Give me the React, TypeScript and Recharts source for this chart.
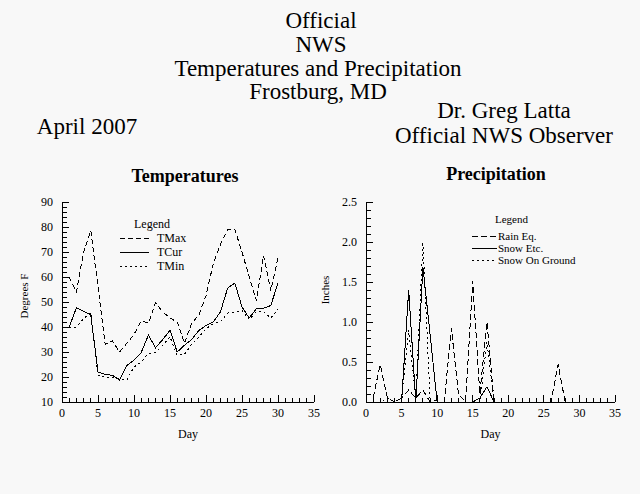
import { LineChart, Line, XAxis, YAxis, Legend } from "recharts";

const days = [1, 2, 3, 4, 5, 6, 7, 8, 9, 10, 11, 12, 13, 14, 15, 16, 17, 18, 19, 20, 21, 22, 23, 24, 25, 26, 27, 28, 29, 30];

const tMax = [60, 54, 70, 78.5, 56, 33, 34.5, 30, 33.5, 37, 42.5, 41.5, 49.7, 46, 43.6, 42, 33.5, 41.4, 44.8, 52.5, 65.3, 73, 79, 79, 70, 60, 50.6, 68.5, 54.6, 67.8];
const tCur = [40, 47.7, 46.3, 44.8, 22, 21, 20.7, 18.8, 24.6, 26.7, 29.8, 36.7, 31.7, 35, 38.7, 30, 32.7, 35, 38.6, 40.6, 42, 46, 55.5, 57.6, 48, 43.6, 47.3, 47.5, 48.6, 57.6];
const tMin = [40, 40, 43.3, 45.7, 20.7, 20, 19.7, 19.2, 18.8, 24, 26, 29.4, 30, 32.7, 36, 28.7, 29, 33, 36, 39.3, 41.3, 42, 45.6, 46, 46.6, 43, 46.2, 46.2, 43.6, 47];

const rainEq = [0.05, 0.47, 0.05, 0, 0.05, 0.15, 0.05, 0.15, 0, 0, 0, 0.92, 0.1, 0, 1.51, 0.1, 1.0, 0, 0, 0, 0, 0, 0, 0, 0, 0, 0.47, 0, 0, 0];
const snowEtc = [0, 0, 0, 0, 0, 1.4, 0, 1.69, 0.85, 0, 0, 0, 0, 0, 0, 0.05, 0.19, 0, 0, 0, 0, 0, 0, 0, 0, 0, 0, 0, 0, 0];
const snowOnGround = [0, 0, 0.05, 0, 0.05, 0.9, 0.05, 2.0, 0.05, 0, 0, 0, 0, 0, 0, 0, 0.75, 0, 0, 0, 0, 0, 0, 0, 0, 0, 0, 0, 0, 0];

const dayTicks = Array.from({ length: 36 }, (_, i) => i);
const tempTicks = Array.from({ length: 41 }, (_, i) => 10 + i * 2);
const precipTicks = [0, 0.1, 0.2, 0.3, 0.4, 0.5, 0.6, 0.7, 0.8, 0.9, 1.0, 1.1, 1.2, 1.3, 1.4, 1.5, 1.6, 1.7, 1.8, 1.9, 2.0, 2.1, 2.2, 2.3, 2.4, 2.5];

const tempData = days.map((d, i) => ({ day: d, tMax: tMax[i], tCur: tCur[i], tMin: tMin[i] }));
const precipData = days.map((d, i) => ({ day: d, rainEq: rainEq[i], snowEtc: snowEtc[i], snowOnGround: snowOnGround[i] }));

const FONT = "'Liberation Serif', 'Times New Roman', serif";
const BG = "#f8f8f8";

const tempSeries = [
  { key: "tMax", name: "TMax", dash: "5 3" },
  { key: "tCur", name: "TCur", dash: undefined },
  { key: "tMin", name: "TMin", dash: "2 3" },
];
const precipSeries = [
  { key: "rainEq", name: "Rain Eq.", dash: "6 3" },
  { key: "snowEtc", name: "Snow Etc.", dash: undefined },
  { key: "snowOnGround", name: "Snow On Ground", dash: "2 3" },
];

// eslint-disable-next-line @typescript-eslint/no-explicit-any
function XTick(props: any) {
  const { x, y, payload } = props;
  const major = payload.value % 5 === 0;
  return (
    <g>
      <line x1={x} y1={y} x2={x} y2={y - (major ? 7 : 4)} stroke="#000" shapeRendering="crispEdges" />
      {major && (
        <text x={x} y={y + 15} textAnchor="middle" fontSize={12} fontFamily={FONT} fill="#000">
          {payload.value}
        </text>
      )}
    </g>
  );
}

function makeYTick(isMajor: (v: number) => boolean, fmt: (v: number) => string) {
  // eslint-disable-next-line @typescript-eslint/no-explicit-any
  return (props: any) => {
    const { x, y, payload } = props;
    const major = isMajor(payload.value);
    return (
      <g>
        <line x1={x} y1={y} x2={x + (major ? 7 : 5)} y2={y} stroke="#000" shapeRendering="crispEdges" />
        {major && (
          <text x={x - 9} y={y + 4} textAnchor="end" fontSize={12} fontFamily={FONT} fill="#000">
            {fmt(payload.value)}
          </text>
        )}
      </g>
    );
  };
}

const TempYTick = makeYTick((v) => v % 10 === 0, (v) => String(v));
const PrecipYTick = makeYTick((v) => Math.abs(v * 2 - Math.round(v * 2)) < 1e-6, (v) => v.toFixed(1));

// legend box drawn inside the plot, like the original
function makeLegend(series: { name: string; dash?: string }[], fontSize: number, lineW: number, firstGap: number, rowH: number, titleX: number, textGap: number) {
  return () => (
    <svg width={160} height={fontSize + firstGap + rowH * 3} style={{ display: "block" }}>
      <text x={titleX} y={fontSize} fontSize={fontSize} fontFamily={FONT} fill="#000">Legend</text>
      {series.map((s, i) => {
        const base = fontSize + firstGap + rowH * i;
        return (
          <g key={s.name}>
            <line x1={0} y1={base - 4} x2={lineW} y2={base - 4} stroke="#000" strokeDasharray={s.dash} shapeRendering="crispEdges" />
            <text x={lineW + textGap} y={base} fontSize={fontSize} fontFamily={FONT} fill="#000">{s.name}</text>
          </g>
        );
      })}
    </svg>
  );
}

const TempLegend = makeLegend(tempSeries, 12, 29, 14, 14, 14, 8);
const PrecipLegend = makeLegend(precipSeries, 11, 25, 17, 12, 23, 1);

const frameAxis = { stroke: "#000", shapeRendering: "crispEdges" } as const;

export default function App() {
  return (
    <div style={{ position: "absolute", left: 0, top: 0, width: 640, height: 494, background: BG, fontFamily: FONT, overflow: "hidden" }}>
      <svg width={640} height={494} style={{ position: "absolute", left: 0, top: 0 }}>
        <g fontFamily={FONT} fill="#000" fontSize={23} textAnchor="middle">
          <text x={321} y={28}>Official</text>
          <text x={321} y={52}>NWS</text>
          <text x={318} y={76}>Temperatures and Precipitation</text>
          <text x={318} y={99}>Frostburg, MD</text>
          <text x={504} y={118}>Dr. Greg Latta</text>
          <text x={504} y={143}>Official NWS Observer</text>
          <text x={87} y={134}>April 2007</text>
        </g>
        <g fontFamily={FONT} fill="#000" fontSize={18} fontWeight="bold" textAnchor="middle">
          <text x={185} y={182}>Temperatures</text>
          <text x={496} y={180}>Precipitation</text>
        </g>
      </svg>

      <div style={{ position: "absolute", left: 0, top: 0 }}>
        <LineChart width={330} height={460} data={tempData} margin={{ top: 202, right: 16, bottom: 0, left: 0 }}>
          <XAxis
            dataKey="day"
            type="number"
            domain={[0, 35]}
            ticks={dayTicks}
            interval={0}
            tickSize={0}
            tickMargin={0}
            tickLine={false}
            tick={<XTick />}
            axisLine={frameAxis}
            height={58}
            label={{ value: "Day", position: "insideBottom", offset: 22, fontSize: 12, fontFamily: FONT, fill: "#000" }}
          />
          <XAxis xAxisId="top" orientation="top" type="number" domain={[0, 35]} height={0} tick={false} tickLine={false} axisLine={frameAxis} />
          <YAxis
            type="number"
            domain={[10, 90]}
            ticks={tempTicks}
            interval={0}
            tickSize={0}
            tickMargin={0}
            tickLine={false}
            tick={<TempYTick />}
            axisLine={frameAxis}
            width={62}
            allowDataOverflow
            label={{ value: "Degrees F", angle: -90, position: "insideLeft", offset: 24, fontSize: 11, fontFamily: FONT, fill: "#000", textAnchor: "middle", dy: -6 }}
          />
          <YAxis yAxisId="right" orientation="right" type="number" domain={[10, 90]} width={0} tick={false} tickLine={false} axisLine={frameAxis} />
          <Legend layout="horizontal" verticalAlign="middle" content={TempLegend} wrapperStyle={{ position: "absolute", left: 120, top: 216, width: 160 }} />
          {tempSeries.map((s) => (
            <Line key={s.key} type="linear" dataKey={s.key} name={s.name} stroke="#000" strokeWidth={1} strokeDasharray={s.dash} shapeRendering="crispEdges" dot={false} isAnimationActive={false} />
          ))}
        </LineChart>
      </div>

      <div style={{ position: "absolute", left: 320, top: 0 }}>
        <LineChart width={310} height={460} data={precipData} margin={{ top: 202, right: 15, bottom: 0, left: 0 }}>
          <XAxis
            dataKey="day"
            type="number"
            domain={[0, 35]}
            ticks={dayTicks}
            interval={0}
            tickSize={0}
            tickMargin={0}
            tickLine={false}
            tick={<XTick />}
            axisLine={frameAxis}
            height={58}
            label={{ value: "Day", position: "insideBottom", offset: 22, fontSize: 12, fontFamily: FONT, fill: "#000" }}
          />
          <XAxis xAxisId="top" orientation="top" type="number" domain={[0, 35]} height={0} tick={false} tickLine={false} axisLine={frameAxis} />
          <YAxis
            type="number"
            domain={[0, 2.5]}
            ticks={precipTicks}
            interval={0}
            tickSize={0}
            tickMargin={0}
            tickLine={false}
            tick={<PrecipYTick />}
            axisLine={frameAxis}
            width={46}
            allowDataOverflow
            label={{ value: "Inches", angle: -90, position: "insideLeft", offset: 5, fontSize: 11, fontFamily: FONT, fill: "#000", textAnchor: "middle", dy: -12 }}
          />
          <YAxis yAxisId="right" orientation="right" type="number" domain={[0, 2.5]} width={0} tick={false} tickLine={false} axisLine={frameAxis} />
          <Legend layout="horizontal" verticalAlign="middle" content={PrecipLegend} wrapperStyle={{ position: "absolute", left: 152, top: 212, width: 160 }} />
          {precipSeries.map((s) => (
            <Line key={s.key} type="linear" dataKey={s.key} name={s.name} stroke="#000" strokeWidth={1} strokeDasharray={s.dash} shapeRendering="crispEdges" dot={false} isAnimationActive={false} />
          ))}
        </LineChart>
      </div>
    </div>
  );
}
